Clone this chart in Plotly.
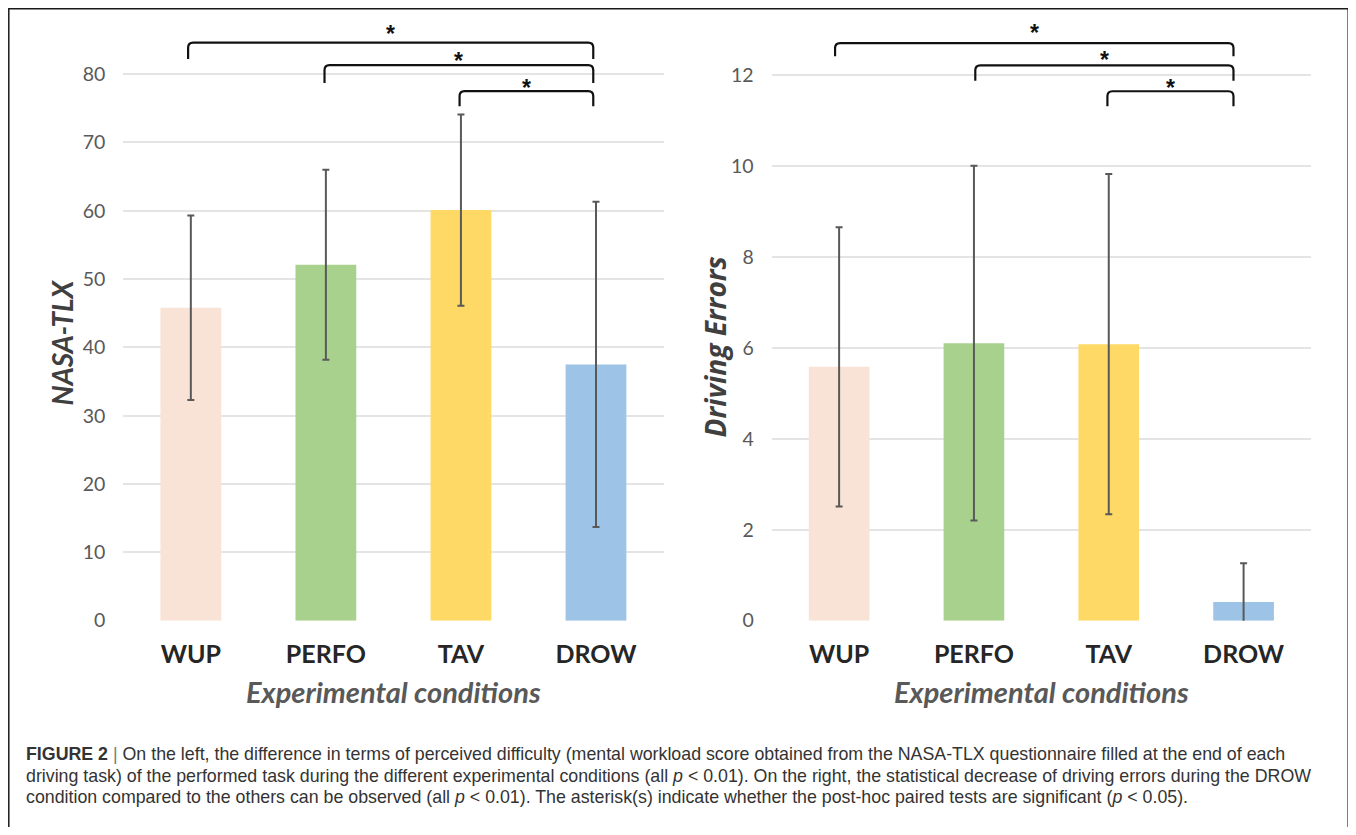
import plotly.graph_objects as go

# ---------------- data ----------------
categories = ["WUP", "PERFO", "TAV", "DROW"]
bar_colors = ["#F9E3D6", "#A9D18E", "#FFD966", "#9DC3E6"]

tlx_mean = [45.8, 52.1, 60.1, 37.5]
tlx_sd = [13.5, 13.9, 14.0, 23.8]

err_mean = [5.58, 6.10, 6.08, 0.41]
err_sd = [3.07, 3.90, 3.74, 0.85]

tlx_ticks = [0, 10, 20, 30, 40, 50, 60, 70, 80]
err_ticks = [0, 2, 4, 6, 8, 10, 12]

# significance brackets (category position of the two ends, height, end height, star height)
tlx_br_start = [-0.02, 0.99, 1.99]
tlx_br_end = [2.98, 2.98, 2.98]
tlx_br_level = [84.6, 81.3, 77.5]
tlx_br_foot = [82.2, 78.7, 75.3]
tlx_star = [86.6, 82.7, 78.7]

err_br_start = [-0.03, 1.01, 1.99]
err_br_end = [2.925, 2.925, 2.925]
err_br_level = [12.70, 12.21, 11.64]
err_br_foot = [12.41, 11.87, 11.31]
err_star = [13.02, 12.43, 11.82]

caption_lines = [
    "<b>FIGURE 2</b> <span style='color:#777'>|</span> On the left, the difference in terms of perceived difficulty (mental workload score obtained from the NASA-TLX questionnaire filled at the end of each",
    "driving task) of the performed task during the different experimental conditions (all <i>p</i> &lt; 0.01). On the right, the statistical decrease of driving errors during the DROW",
    "condition compared to the others can be observed (all <i>p</i> &lt; 0.01). The asterisk(s) indicate whether the post-hoc paired tests are significant (<i>p</i> &lt; 0.05).",
]

# ---------------- geometry (page pixels; the page body has an 8px margin) ----------------
OFF = 8
W, H = 1356 - 2 * OFF, 835 - 2 * OFF
plot_top_px, plot_bot_px = 20, 629
left_dom_px = (123.3, 663.5)
right_dom_px = (771.7, 1311)
tlx_top = 87.94
err_top = 13.21


def px_x(p):
    return (p - OFF) / W


def px_y(p):
    return 1 - (p - OFF) / H


fig = go.Figure()

fig.add_trace(go.Bar(
    x=list(range(len(categories))), y=tlx_mean, width=0.45,
    marker=dict(color=bar_colors, line=dict(width=0)),
    error_y=dict(type="data", array=tlx_sd, visible=True, color="#595959",
                 thickness=2, width=3.5),
    xaxis="x", yaxis="y", showlegend=False, hoverinfo="skip",
))
fig.add_trace(go.Bar(
    x=list(range(len(categories))), y=err_mean, width=0.45,
    marker=dict(color=bar_colors, line=dict(width=0)),
    error_y=dict(type="data", array=err_sd, visible=True, color="#595959",
                 thickness=2, width=3.5),
    xaxis="x2", yaxis="y2", showlegend=False, hoverinfo="skip",
))

xcommon = dict(range=[-0.5, 3.5], tickmode="array",
               tickvals=list(range(len(categories))), ticktext=categories,
               showgrid=False, zeroline=False, showline=False, ticks="",
               tickfont=dict(family="Lato", size=25, color="#262626", weight="bold"),
               ticklabelstandoff=16, fixedrange=True)
ycommon = dict(showgrid=True, gridcolor="#E4E4E4", gridwidth=1.5,
               zeroline=False, showline=False, ticks="",
               tickfont=dict(family="Lato", size=19.5, color="#595959"),
               ticklabelstandoff=17, fixedrange=True, tickmode="array")

ydom = [px_y(plot_bot_px), px_y(plot_top_px)]

fig.update_layout(
    width=W, height=H,
    margin=dict(l=0, r=0, t=0, b=0),
    paper_bgcolor="white", plot_bgcolor="white",
    xaxis=dict(domain=[px_x(left_dom_px[0]), px_x(left_dom_px[1])], anchor="y", **xcommon),
    yaxis=dict(domain=ydom, anchor="x", range=[0, tlx_top], tickvals=tlx_ticks, **ycommon),
    xaxis2=dict(domain=[px_x(right_dom_px[0]), px_x(right_dom_px[1])], anchor="y2", **xcommon),
    yaxis2=dict(domain=ydom, anchor="x2", range=[0, err_top], tickvals=err_ticks, **ycommon),
)

shapes = []
annotations = []


def add_brackets(xref, yref, starts, ends, levels, feet, stars, dom_px, ytop):
    ppx = (dom_px[1] - dom_px[0]) / 4.0        # px per category unit
    ppy = (plot_bot_px - plot_top_px) / ytop   # px per value unit
    rx = 5 / ppx
    ry = 5 / ppy
    for s, e, lv, ft, st in zip(starts, ends, levels, feet, stars):
        path = (f"M {s} {ft} L {s} {lv - ry} Q {s} {lv} {s + rx} {lv} "
                f"L {e - rx} {lv} Q {e} {lv} {e} {lv - ry} L {e} {ft}")
        shapes.append(dict(type="path", path=path, xref=xref, yref=yref,
                           line=dict(color="#111111", width=2.2), layer="above"))
        annotations.append(dict(x=(s + e) / 2, y=st, xref=xref, yref=yref,
                                text="<b>*</b>", showarrow=False,
                                xanchor="center", yanchor="middle", yshift=-5,
                                font=dict(family="Liberation Sans", size=23, color="#111111")))


add_brackets("x", "y", tlx_br_start, tlx_br_end, tlx_br_level, tlx_br_foot, tlx_star,
             left_dom_px, tlx_top)
add_brackets("x2", "y2", err_br_start, err_br_end, err_br_level, err_br_foot, err_star,
             right_dom_px, err_top)

# outer frame (open at the bottom)
fx0, fx1, fy0 = px_x(8.8), px_x(1348.2), px_y(8.8)
frame_path = f"M {fx0} -0.05 L {fx0} {fy0} L {fx1} {fy0} L {fx1} -0.05"
shapes.append(dict(type="path", xref="paper", yref="paper", path=frame_path,
                   line=dict(color="#1a1a1a", width=1.5)))

# axis titles
annotations.append(dict(x=px_x(62), y=px_y(347), xref="paper", yref="paper",
                        xanchor="center", yanchor="middle",
                        text="<b><i>NASA-TLX</i></b>", textangle=-90, showarrow=False,
                        font=dict(family="Lato", size=28, color="#404040")))
annotations.append(dict(x=px_x(715), y=px_y(352), xref="paper", yref="paper",
                        xanchor="center", yanchor="middle",
                        text="<b><i>Driving Errors</i></b>", textangle=-90, showarrow=False,
                        font=dict(family="Open Sans", size=28, color="#404040")))
for cx in [(left_dom_px[0] + left_dom_px[1]) / 2, (right_dom_px[0] + right_dom_px[1]) / 2]:
    annotations.append(dict(x=px_x(cx), y=px_y(701), xref="paper", yref="paper",
                            xanchor="center", yanchor="middle",
                            text="<b><i>Experimental conditions</i></b>", showarrow=False,
                            font=dict(family="Lato", size=29, color="#595959")))

# caption
for i, line in enumerate(caption_lines):
    annotations.append(dict(x=px_x(24), y=px_y(764 + 22 * i), xref="paper", yref="paper",
                            text=line, showarrow=False, xanchor="left", yanchor="middle",
                            align="left",
                            font=dict(family="Liberation Sans", size=17.8, color="#333333")))

fig.update_layout(shapes=shapes, annotations=annotations)

fig.write_html("out.html", config=dict(displayModeBar=False))
